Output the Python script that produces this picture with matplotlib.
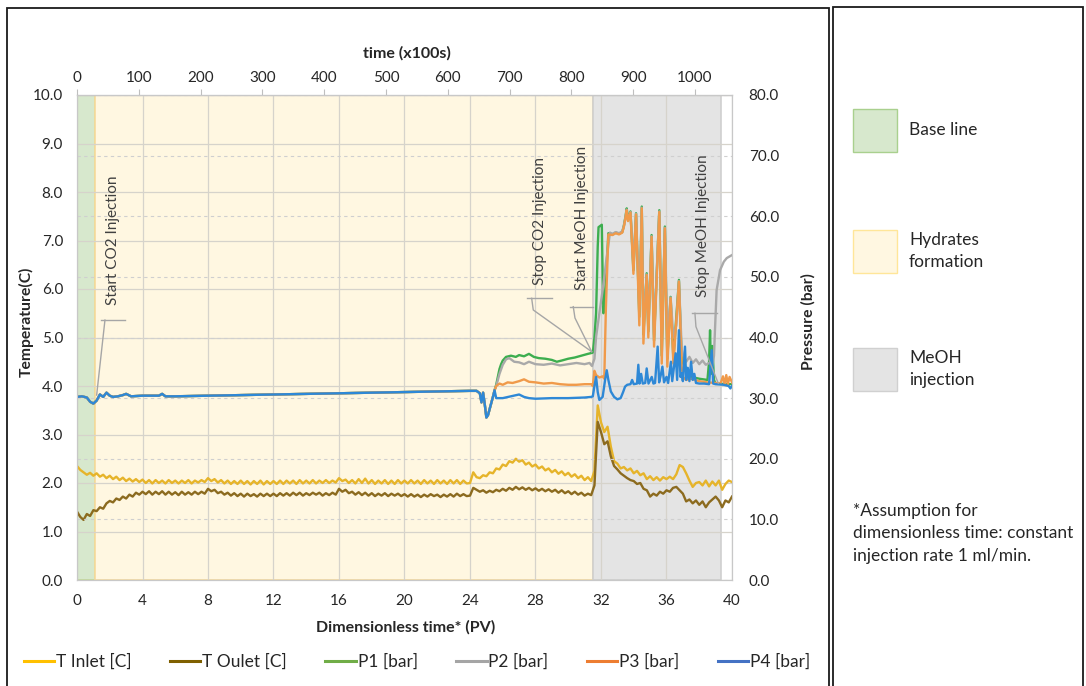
import matplotlib
matplotlib.use("Agg")
import matplotlib.pyplot as plt
import numpy as np
from matplotlib.lines import Line2D
from matplotlib.patches import Rectangle
from matplotlib.ticker import FormatStrFormatter
from matplotlib.transforms import IdentityTransform

W, H = 1086, 686

# ---------------------------------------------------------------- data
# temperatures are sampled every 0.2 PV from 0 to 40
t_pv = np.round(np.arange(201) * 0.2, 1)
t_inlet = [
    2.35, 2.27, 2.22, 2.17, 2.21, 2.15, 2.20, 2.13, 2.17, 2.10, 2.15, 2.08, 2.13, 2.06, 2.11, 2.04, 2.09, 2.03, 2.08, 2.02, 2.07,
    2.00, 2.06, 1.99, 2.06, 2.00, 2.05, 1.99, 2.06, 2.00, 2.05, 1.99, 2.05, 2.00, 2.06, 1.99, 2.05, 2.01, 2.06, 2.02, 2.10,
    2.04, 2.08, 2.01, 2.06, 1.99, 2.05, 1.98, 2.04, 1.98, 2.05, 1.98, 2.04, 1.97, 2.04, 1.98, 2.05, 1.97, 2.04, 1.98, 2.04,
    1.98, 2.05, 1.98, 2.05, 1.99, 2.05, 1.98, 2.06, 1.99, 2.05, 1.99, 2.06, 1.99, 2.05, 2.00, 2.06, 2.00, 2.05, 2.01, 2.10,
    2.04, 2.07, 2.00, 2.06, 1.99, 2.08, 2.00, 2.09, 1.99, 2.06, 1.98, 2.05, 1.99, 2.06, 1.98, 2.05, 1.98, 2.06, 1.99, 2.05,
    1.99, 2.06, 1.99, 2.05, 1.98, 2.06, 1.99, 2.05, 1.98, 2.06, 1.99, 2.05, 1.98, 2.06, 1.99, 2.06, 1.98, 2.05, 1.99, 2.00,
    2.22, 2.12, 2.10, 2.16, 2.14, 2.22, 2.20, 2.30, 2.28, 2.38, 2.35, 2.45, 2.42, 2.50, 2.44, 2.47, 2.38, 2.42, 2.34, 2.38,
    2.30, 2.34, 2.26, 2.30, 2.22, 2.27, 2.19, 2.24, 2.16, 2.21, 2.13, 2.18, 2.10, 2.15, 2.06, 2.12, 2.04, 2.25, 3.60, 3.25,
    3.05, 3.16, 2.75, 2.45, 2.40, 2.30, 2.33, 2.26, 2.30, 2.20, 2.25, 2.16, 2.20, 2.08, 2.14, 2.06, 2.12, 2.05, 2.12, 2.08,
    2.13, 2.08, 2.18, 2.37, 2.33, 2.20, 2.05, 1.92, 2.00, 2.02, 1.95, 2.05, 1.93, 2.03, 1.95, 2.05, 1.86, 1.98, 2.05, 2.02,
]
t_outlet = [
    1.41, 1.30, 1.24, 1.36, 1.32, 1.44, 1.42, 1.50, 1.47, 1.58, 1.63, 1.60, 1.68, 1.65, 1.72, 1.68, 1.76, 1.72, 1.80, 1.76, 1.82,
    1.77, 1.83, 1.76, 1.82, 1.77, 1.83, 1.76, 1.82, 1.76, 1.81, 1.75, 1.82, 1.76, 1.81, 1.76, 1.82, 1.77, 1.82, 1.78, 1.88,
    1.83, 1.86, 1.79, 1.82, 1.76, 1.80, 1.74, 1.79, 1.73, 1.78, 1.72, 1.78, 1.73, 1.77, 1.72, 1.78, 1.73, 1.78, 1.73, 1.78,
    1.73, 1.79, 1.74, 1.79, 1.74, 1.80, 1.75, 1.80, 1.74, 1.79, 1.75, 1.80, 1.76, 1.80, 1.74, 1.79, 1.75, 1.80, 1.76, 1.88,
    1.82, 1.86, 1.79, 1.82, 1.76, 1.81, 1.75, 1.80, 1.74, 1.79, 1.73, 1.78, 1.74, 1.79, 1.73, 1.78, 1.74, 1.78, 1.73, 1.77,
    1.72, 1.77, 1.72, 1.76, 1.71, 1.76, 1.72, 1.77, 1.73, 1.76, 1.71, 1.76, 1.72, 1.77, 1.72, 1.78, 1.73, 1.77, 1.73, 1.74,
    1.90, 1.86, 1.82, 1.85, 1.80, 1.84, 1.81, 1.86, 1.83, 1.88, 1.84, 1.90, 1.86, 1.92, 1.87, 1.91, 1.86, 1.90, 1.85, 1.89,
    1.84, 1.88, 1.83, 1.87, 1.82, 1.86, 1.80, 1.85, 1.79, 1.83, 1.77, 1.82, 1.76, 1.80, 1.74, 1.78, 1.75, 1.95, 3.26, 3.05,
    2.80, 2.86, 2.55, 2.35, 2.28, 2.20, 2.15, 2.10, 2.06, 2.04, 1.98, 2.00, 1.88, 1.85, 1.72, 1.78, 1.74, 1.82, 1.78, 1.85,
    1.82, 1.90, 1.92, 1.85, 1.78, 1.62, 1.66, 1.58, 1.64, 1.55, 1.62, 1.50, 1.60, 1.66, 1.72, 1.64, 1.50, 1.64, 1.60, 1.72,
]

# pressures: the four sensors read the same until ~25.5 PV
p_base_pv = [0, 0.3, 0.6, 0.8, 1.0, 1.2, 1.4, 1.6, 1.8, 2.0, 2.2, 2.5, 2.8, 3.0, 3.3, 4.0, 5.0, 5.2, 5.4, 6.0,
             8.0, 10.0, 12.0, 14.0, 16.0, 18.0, 20.0, 22.0, 24.0, 24.4, 24.6, 24.7, 24.8, 24.9, 25.0, 25.1, 25.2, 25.3, 25.4, 25.5]
p_base_bar = [30.2, 30.3, 30.1, 29.4, 29.1, 29.6, 30.6, 30.2, 30.9, 30.4, 30.2, 30.3, 30.5, 30.7, 30.3, 30.4, 30.4, 30.7, 30.3, 30.3,
              30.4, 30.5, 30.6, 30.7, 30.8, 30.9, 31.0, 31.1, 31.2, 31.2, 30.8, 29.3, 30.9, 29.0, 26.8, 27.2, 28.2, 29.2, 30.2, 31.3]

p1_pv = [25.6, 25.7, 25.8, 25.9, 26.0, 26.2, 26.5, 26.8, 27.0, 27.3, 27.6, 27.9, 28.2, 28.6, 29.0, 29.3, 29.6, 30.0, 30.4, 30.8,
         31.2, 31.5, 31.6, 31.7, 31.8, 31.85, 32.05, 32.1, 32.15, 32.25, 32.45, 32.7, 32.9, 33.1, 33.3, 33.4, 33.5, 33.57, 33.65, 33.8,
         33.98, 34.14, 34.34, 34.49, 34.59, 34.79, 34.89, 35.09, 35.24, 35.56, 35.71, 35.9, 36.05, 36.25, 36.42, 36.76, 36.93, 37.0, 37.3, 37.5,
         38.0, 38.5, 38.6, 38.66, 38.72, 38.8, 38.9, 39.0, 40.0]
p1_bar = [32.2, 33.5, 34.8, 35.6, 36.2, 36.8, 37.0, 36.8, 37.1, 36.9, 37.3, 36.8, 36.6, 36.5, 36.3, 36.0, 36.2, 36.5, 36.7, 37.0,
          37.3, 37.5, 40.0, 44.0, 55.0, 58.2, 58.6, 50.0, 44.0, 47.0, 57.2, 57.0, 57.3, 57.1, 57.4, 58.5, 60.0, 61.3, 59.5, 60.8,
          51.1, 60.5, 43.4, 61.6, 40.5, 50.6, 41.0, 56.9, 39.5, 61.0, 37.0, 58.3, 36.5, 46.7, 36.5, 49.5, 36.0, 35.8, 34.5, 33.5,
          33.2, 33.0, 36.0, 41.2, 34.0, 38.6, 33.0, 32.4, 32.3]

p2_pv = [25.6, 25.8, 26.0, 26.2, 26.4, 26.7, 27.0, 27.3, 27.6, 28.0, 28.5, 29.0, 29.5, 30.0, 30.5, 31.0, 31.3, 31.45, 31.6, 31.7,
         31.9, 32.1, 32.35, 32.55, 32.7, 32.9, 33.1, 33.3, 33.4, 33.5, 33.57, 33.65, 33.8, 33.98, 34.14, 34.34, 34.49, 34.59, 34.79, 34.89,
         35.09, 35.24, 35.56, 35.71, 35.9, 36.05, 36.25, 36.42, 36.6, 36.76, 36.93, 37.0, 37.2, 37.4, 37.6, 37.8, 38.0, 38.2, 38.4, 38.6,
         38.8, 38.9, 38.96, 39.06, 39.27, 39.5, 39.68, 40.0]
p2_bar = [32.0, 34.0, 35.5, 36.4, 36.6, 36.0, 35.9, 35.6, 36.0, 35.6, 35.5, 35.7, 35.4, 35.6, 35.8, 35.6, 35.8, 35.3, 36.5, 40.1,
          44.0, 47.8, 53.3, 57.3, 57.1, 57.4, 57.2, 57.5, 58.4, 59.9, 61.1, 59.3, 60.7, 52.0, 60.4, 45.0, 61.4, 41.5, 50.4, 42.0,
          56.7, 40.5, 60.8, 39.0, 58.1, 40.0, 46.6, 40.0, 42.0, 49.3, 38.0, 37.2, 36.0, 36.8, 35.8, 36.4, 35.6, 36.2, 35.5, 35.8,
          35.3, 37.0, 41.2, 47.8, 51.1, 52.5, 53.1, 53.6]

p3_pv = [25.6, 25.8, 26.0, 26.3, 26.6, 27.0, 27.3, 27.6, 28.0, 28.5, 29.0, 29.5, 30.0, 30.5, 31.0, 31.4, 31.5, 31.6, 31.7, 31.9,
         32.1, 32.2, 32.3, 32.45, 32.7, 32.9, 33.1, 33.3, 33.4, 33.5, 33.57, 33.65, 33.8, 33.98, 34.14, 34.34, 34.49, 34.59, 34.79, 34.89,
         35.09, 35.24, 35.56, 35.71, 35.9, 36.05, 36.25, 36.42, 36.76, 36.93, 37.0, 37.2, 37.5, 38.0, 38.5, 39.0, 39.3, 39.45, 39.55, 39.65,
         39.75, 39.85, 40.0]
p3_bar = [32.0, 32.4, 32.2, 32.6, 32.5, 32.8, 33.1, 32.7, 32.6, 32.4, 32.5, 32.3, 32.2, 32.2, 32.3, 32.3, 32.0, 34.5, 33.8, 33.4,
          33.6, 33.2, 45.0, 57.0, 56.9, 57.2, 57.0, 57.3, 58.3, 59.8, 61.0, 59.2, 60.6, 50.5, 60.3, 42.0, 61.3, 39.0, 50.3, 40.0,
          56.6, 38.5, 60.7, 35.7, 58.0, 35.2, 46.5, 35.7, 49.2, 35.2, 33.5, 33.0, 33.2, 32.8, 32.6, 32.5, 32.4, 33.6, 32.2, 33.8,
          32.3, 33.5, 32.6]

p4_pv = [25.6, 26.0, 26.5, 27.0, 27.3, 27.6, 28.0, 29.0, 30.0, 31.0, 31.4, 31.5, 31.6, 31.7, 31.8, 31.9, 32.1, 32.25, 32.35, 32.45,
         32.6, 32.8, 33.0, 33.2, 33.35, 33.47, 33.6, 33.8, 33.9, 34.0, 34.2, 34.28, 34.35, 34.45, 34.55, 34.7, 34.79, 34.9, 35.1, 35.2,
         35.3, 35.46, 35.55, 35.65, 35.75, 35.85, 36.0, 36.1, 36.27, 36.35, 36.45, 36.56, 36.65, 36.76, 36.85, 36.92, 37.0, 37.13, 37.2, 37.3,
         37.4, 37.5, 37.6, 37.7, 37.8, 38.0, 38.3, 38.6, 38.76, 38.85, 39.0, 39.5, 39.8, 39.9, 40.0]
p4_bar = [30.0, 30.0, 30.3, 30.6, 30.2, 30.0, 29.9, 30.0, 30.0, 30.1, 30.2, 30.3, 32.0, 33.5, 31.0, 29.7, 30.2, 33.0, 34.6, 33.0,
          31.1, 30.2, 29.8, 30.0, 31.0, 31.9, 32.2, 32.3, 33.0, 32.3, 32.4, 35.5, 32.4, 34.0, 32.4, 32.5, 34.9, 32.4, 33.5, 32.4,
          32.5, 38.5, 32.6, 33.8, 35.2, 32.6, 33.5, 32.5, 36.0, 32.8, 35.0, 37.4, 33.0, 41.2, 33.5, 34.1, 32.8, 38.5, 33.0, 35.0,
          32.8, 36.0, 33.0, 34.0, 32.5, 32.4, 32.4, 32.3, 37.9, 32.4, 32.3, 32.2, 32.0, 31.6, 32.0]

phase_names = ["Base line", "Hydrates\nformation", "MeOH\ninjection"]
phase_start = [0.0, 1.1, 31.5]
phase_end = [1.1, 31.5, 39.3]

event_names = ["Start CO2 Injection", "Stop CO2 Injection", "Start MeOH Injection", "Stop MeOH Injection"]
event_pv = [1.2, 31.43, 31.43, 39.16]
event_bar = [30.5, 37.66, 37.66, 32.45]

TIME_PER_PV = 26.5  # top axis, x100 s per PV

# ---------------------------------------------------------------- styling
series_labels = ["T Inlet [C]", "T Oulet [C]", "P1 [bar]", "P2 [bar]", "P3 [bar]", "P4 [bar]"]
line_colors = ["#E6B42A", "#8C6B1F", "#3DAE4F", "#A9A9A9", "#F09A4A", "#2E88D6"]
legend_colors = ["#FFC000", "#7F6000", "#70AD47", "#A5A5A5", "#ED7D31", "#4472C4"]
phase_face = ["#D7E8CD", "#FFF7E1", "#E4E4E4"]
phase_edge = ["#BFD890", "#F7DA9C", "#CFCFCF"]

TXT = "#262626"
plt.rcParams["font.family"] = ["Lato", "DejaVu Sans"]


def fx(x):
    return x / W


def fy(y):
    return 1 - y / H


fig = plt.figure(figsize=(W / 100, H / 100), dpi=100)
ax = fig.add_axes([fx(77), fy(580), 655 / W, 485 / H])
ax2 = ax.twinx()

for start, end, face, edge in zip(phase_start, phase_end, phase_face, phase_edge):
    ax.axvspan(start, end, facecolor=face, edgecolor=edge, lw=1.2, zorder=0)

ax.plot(t_pv, t_inlet, color=line_colors[0], lw=1.7, zorder=3)
ax.plot(t_pv, t_outlet, color=line_colors[1], lw=1.7, zorder=3)

for pv, bar, color in [(p1_pv, p1_bar, line_colors[2]), (p2_pv, p2_bar, line_colors[3]),
                       (p3_pv, p3_bar, line_colors[4]), (p4_pv, p4_bar, line_colors[5])]:
    ax2.plot(p_base_pv + pv, p_base_bar + bar, color=color, lw=1.7)

ax.set_xlim(0, 40)
ax.set_ylim(0, 10)
ax2.set_ylim(0, 80)
ax.set_xticks(range(0, 41, 4))
ax.set_yticks(np.arange(0, 10.5, 1.0))
ax2.set_yticks(range(0, 81, 10))
ax.yaxis.set_major_formatter(FormatStrFormatter("%.1f"))
ax2.yaxis.set_major_formatter(FormatStrFormatter("%.1f"))

ax.grid(True, color="#D6D3CB", lw=0.9, zorder=1)
ax2.grid(True, axis="y", color="#CFCFCF", lw=0.8, ls=(0, (3, 3)))

ax.tick_params(axis="both", length=0, labelsize=11, labelcolor=TXT)
ax.tick_params(axis="x", pad=10)
ax.tick_params(axis="y", pad=10)
ax2.tick_params(axis="y", length=0, labelsize=11, labelcolor=TXT, pad=12)
for a in (ax, ax2):
    for sp in a.spines.values():
        sp.set_color("#C8C8C8")
        sp.set_linewidth(0.8)

secax = ax.secondary_xaxis("top", functions=(lambda x: x * TIME_PER_PV, lambda t: t / TIME_PER_PV))
secax.set_xticks(range(0, 1001, 100))
secax.tick_params(direction="out", length=4, color="#BFBFBF", pad=3, labelsize=11, labelcolor=TXT)
secax.spines["top"].set_color("#BFBFBF")

fig.text(fx(407), fy(53), "time (x100s)", ha="center", va="center", fontsize=11.5, fontweight="bold", color=TXT)
fig.text(fx(406), fy(627), "Dimensionless time* (PV)", ha="center", va="center", fontsize=11.5,
         fontweight="bold", color=TXT)
fig.text(fx(26), fy(322), "Temperature(C)", rotation=90, ha="center", va="center", fontsize=11.3,
         fontweight="bold", color=TXT)
fig.text(fx(808), fy(322), "Pressure (bar)", rotation=90, ha="center", va="center", fontsize=11.3,
         fontweight="bold", color=TXT)

# callouts: offsets in pixels from the event point (y up)
callout_geom = [
    ([(8.3, 75)], (4, 28.3, 75), (16.6, 90)),
    ([(-58.4, 41.7), (-60, 53.4)], (-65, -40, 53.4), (-51.7, 66.7)),
    ([(-16.7, 33.7), (-18.4, 45)], (-21.7, 1.6, 45), (-10, 61.7)),
    ([(-22.3, 56.6), (-23.3, 70)], (-26.6, -1.6, 70), (-15, 86.6)),
]
for name, pv, bar, (path, hbar, tpos) in zip(event_names, event_pv, event_bar, callout_geom):
    x0, y0 = ax2.transData.transform((pv, bar))
    xs = [x0] + [x0 + dx for dx, dy in path]
    ys = [y0] + [y0 + dy for dx, dy in path]
    fig.add_artist(Line2D(xs, ys, transform=IdentityTransform(), color="#A6A6A6", lw=1, zorder=5))
    fig.add_artist(Line2D([x0 + hbar[0], x0 + hbar[1]], [y0 + hbar[2]] * 2, transform=IdentityTransform(),
                          color="#A6A6A6", lw=1, zorder=5))
    fig.text(x0 + tpos[0], y0 + tpos[1], name, transform=IdentityTransform(), rotation=90,
             ha="center", va="bottom", fontsize=11, color="#404040", zorder=6)

handles = [Line2D([], [], color=c, lw=2.2) for c in legend_colors]
fig.legend(handles, series_labels, loc="center", ncol=6, mode="expand", frameon=False,
           bbox_to_anchor=(fx(8), fy(680), (826 - 8) / W, 36 / H), fontsize=12.5,
           handlelength=1.75, handletextpad=0.1, labelcolor=TXT)

# panel frames
fig.add_artist(Rectangle((fx(7), fy(700)), (829 - 7) / W, (700 - 8) / H, transform=fig.transFigure,
                         fill=False, edgecolor="#1A1A1A", lw=1.3))
fig.add_artist(Rectangle((fx(833), fy(700)), (1083 - 833) / W, (700 - 7) / H, transform=fig.transFigure,
                         fill=False, edgecolor="#1A1A1A", lw=1.3))

# right-hand phase legend
swatch_top = [109, 230, 348]
for name, face, edge, top in zip(phase_names, phase_face, ["#A9D08E", "#FFE699", "#D0D0D0"], swatch_top):
    fig.add_artist(Rectangle((fx(853), fy(top + 43)), 44 / W, 43 / H, transform=fig.transFigure,
                             facecolor=face, edgecolor=edge, lw=1))
    fig.text(fx(909), fy(top + 21), name, ha="left", va="center", fontsize=12.5, color=TXT, linespacing=1.5)

fig.text(fx(853), fy(503), "*Assumption for\ndimensionless time: constant\ninjection rate 1 ml/min.",
         ha="left", va="top", fontsize=12.5, color=TXT, linespacing=1.5)

fig.savefig("out.png", dpi=100)
